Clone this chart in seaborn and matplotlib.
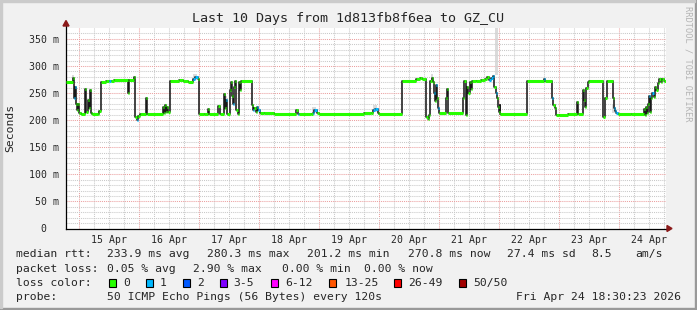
import numpy as np
import pandas as pd
import matplotlib
matplotlib.use("Agg")
import matplotlib.pyplot as plt
from matplotlib.patches import Rectangle, Polygon
from matplotlib.lines import Line2D
import seaborn as sns

# ---------------- data ----------------
# hours since Tue Apr 14 18:30, median rtt in ms, loss count for each step
t_hours = [0.0, 2.8, 3.2, 3.5, 3.9, 4.3, 4.7, 5.1, 5.5, 6.2, 7.9, 8.3, 8.8, 9.2, 9.6,
           10.0, 10.6, 12.8, 13.5, 14.3, 16.2, 17.5, 18.0, 19.5, 25.1, 25.5, 27.5,
           27.9, 28.4, 29.1, 29.9, 32.0, 32.6, 39.0, 39.4, 39.8, 40.2, 40.6, 41.1,
           41.8, 45.5, 46.8, 48.8, 50.8, 51.8, 52.8, 53.2, 55.5, 57.1, 57.5, 61.1,
           61.6, 63.2, 63.5, 63.8, 64.2, 64.6, 65.9, 66.2, 66.6, 67.0, 67.5, 67.9,
           68.3, 68.8, 69.2, 69.8, 70.3, 74.4, 75.0, 75.5, 76.0, 76.6, 77.1, 77.6,
           79.5, 83.5, 92.2, 92.8, 93.2, 98.2, 98.8, 99.5, 100.6, 101.2, 119.5,
           122.2, 122.8, 123.8, 124.8, 125.5, 134.4, 140.2, 141.9, 142.4, 144.3,
           145.0, 145.5, 145.9, 146.4, 147.0, 147.5, 147.9, 148.3, 148.7, 149.1,
           149.5, 152.2, 152.6, 153.0, 159.0, 159.4, 160.2, 160.6, 161.1, 161.6,
           162.2, 162.7, 164.2, 166.2, 167.8, 168.6, 169.2, 170.2, 171.0, 171.5,
           172.0, 172.4, 172.8, 173.2, 173.6, 173.9, 184.6, 191.5, 191.9, 194.6,
           195.1, 195.8, 196.3, 197.5, 200.8, 204.6, 205.1, 207.1, 207.5, 207.9,
           208.3, 208.8, 209.4, 215.1, 215.8, 216.4, 218.8, 219.2, 219.8, 220.3,
           220.8, 226.2, 231.2, 231.6, 232.2, 232.6, 233.1, 233.5, 233.9, 234.3,
           234.7, 235.2, 235.8, 236.3, 236.8, 237.5, 238.2, 238.7, 239.2, 240.0]
rtt_ms = [270, 278, 255, 240, 262, 230, 218, 230, 214, 211, 258, 215, 238, 222, 255,
          214, 211, 212, 217, 270, 273, 272, 272, 274, 250, 274, 279,
          205, 200, 208, 212, 240, 212, 225, 214, 228, 215, 225, 215,
          272, 274, 272, 271, 276, 280, 276, 212, 211, 220, 212, 226,
          212, 240, 248, 222, 238, 212, 255, 271, 245, 230, 262, 272,
          218, 212, 270, 255, 272, 228, 218, 222, 215, 225, 218, 214,
          213, 211, 219, 212, 212, 211, 214, 218, 214, 212, 213,
          214, 218, 221, 214, 212, 273, 275, 278, 275, 205,
          202, 210, 272, 278, 270, 250, 235, 265, 240, 222,
          213, 240, 258, 213, 240, 272, 210, 262, 250, 270,
          258, 272, 273, 274, 276, 280, 274, 277, 282, 262,
          250, 240, 225, 215, 228, 212, 273, 275, 273, 240,
          228, 222, 210, 209, 212, 233, 212, 256, 238, 225,
          260, 270, 272, 205, 240, 272, 240, 222, 216, 213,
          212, 211, 220, 210, 225, 213, 230, 245, 215, 240,
          250, 242, 262, 255, 268, 275, 270, 276, 272, 272]
loss_count = [0, 0, 0, 1, 1, 0, 0, 0, 0, 0, 0, 0, 0, 0, 0,
              0, 0, 0, 0, 0, 0, 1, 0, 0, 0, 0, 0,
              0, 1, 0, 0, 0, 0, 0, 0, 0, 0, 0, 0,
              0, 0, 0, 0, 1, 1, 0, 0, 0, 0, 0, 0,
              0, 0, 0, 0, 1, 0, 0, 0, 0, 1, 0, 0,
              0, 0, 0, 0, 0, 0, 1, 0, 0, 1, 1, 0,
              0, 0, 0, 1, 0, 0, 1, 1, 0, 0, 0,
              0, 1, 1, 0, 0, 0, 0, 0, 0, 0,
              0, 0, 0, 0, 0, 1, 0, 1, 0, 1,
              0, 0, 0, 0, 0, 0, 0, 0, 0, 0,
              0, 0, 0, 0, 0, 0, 1, 1, 1, 0,
              1, 0, 0, 0, 0, 0, 0, 1, 0, 1,
              0, 0, 0, 0, 0, 0, 0, 0, 0, 0,
              0, 0, 0, 0, 0, 0, 0, 1, 1, 1,
              0, 0, 0, 0, 0, 0, 0, 1, 0, 0,
              1, 0, 0, 0, 0, 0, 0, 0, 0, 0]

# smoke (spread of the pings) where it is visible
smoke_t = [2.8, 51.8, 64.2, 99.5, 123.8, 146.4, 172.4, 219.2]
smoke_lo = [268, 274, 226, 213, 215, 268, 283, 214]
smoke_hi = [284, 285, 244, 225, 227, 285, 372, 230]
smoke_w = [0.8, 1.6, 0.6, 1.6, 1.6, 0.8, 1.2, 1.2]

day_labels = ["15 Apr", "16 Apr", "17 Apr", "18 Apr", "19 Apr",
              "20 Apr", "21 Apr", "22 Apr", "23 Apr", "24 Apr"]
y_ticks = [0, 50, 100, 150, 200, 250, 300, 350]
y_labels = ["0  ", "50 m", "100 m", "150 m", "200 m", "250 m", "300 m", "350 m"]

loss_names = ["0", "1", "2", "3-5", "6-12", "13-25", "26-49", "50/50"]
loss_colors = ["#26ff00", "#00b8ff", "#0059ff", "#7e00ff",
               "#ff00ff", "#ff5500", "#ff0000", "#a10000"]

title = "Last 10 Days from 1d813fb8f6ea to GZ_CU"
rtt_items = ["median rtt:", "233.9 ms avg", "280.3 ms max", "201.2 ms min",
             "270.8 ms now", "27.4 ms sd", "8.5", "am/s"]
loss_items = ["packet loss:", "0.05 % avg", "2.90 % max", "0.00 % min", "0.00 % now"]
probe_items = ["probe:", "50 ICMP Echo Pings (56 Bytes) every 120s"]
stamp_text = "Fri Apr 24 18:30:23 2026"

# ---------------- figure ----------------
W, H = 697, 310
sns.set_theme(style="white")
plt.rcParams["font.family"] = ["DejaVu Sans Mono", "DejaVu Sans"]
MONO = "DejaVu Sans Mono"

fig = plt.figure(figsize=(W / 100, H / 100), dpi=100)
BG = "#f1f1f1"
fig.patch.set_facecolor(BG)


def fx(px):
    return px / W


def fy(py):
    return 1 - py / H


x_left, x_right = 65.5, 665.5
y_top, y_bot = 28.0, 228.5
ax = fig.add_axes([fx(x_left), fy(y_bot), fx(x_right) - fx(x_left), fy(y_top) - fy(y_bot)])
ax.set_facecolor("white")
ax.set_xlim(0, 240)
ax.set_ylim(0, 370)

# grid
minor_col = "#c9c9c9"
major_col = "#eba0a0"
dot = (0, (1, 1))
for h in np.arange(5.5, 240, 6):
    is_major = abs(((h - 5.5) / 24) - round((h - 5.5) / 24)) < 1e-6
    ax.axvline(h, color=major_col if is_major else minor_col, lw=0.75, ls=dot, zorder=0.5)
for v in range(10, 370, 10):
    ax.axhline(v, color=major_col if v % 50 == 0 else minor_col, lw=0.75, ls=dot, zorder=0.5)

# smoke
ax.bar(smoke_t, np.array(smoke_hi) - np.array(smoke_lo), bottom=smoke_lo,
       width=smoke_w, color="#d2d2d2", alpha=0.8, zorder=1, linewidth=0)

df = pd.DataFrame({"hours": t_hours, "rtt": rtt_ms, "loss": loss_count})

# dark median line
sns.lineplot(data=df, x="hours", y="rtt", ax=ax, color="#1a1a1a", lw=1.15,
             drawstyle="steps-post", estimator=None, sort=False, zorder=2)

# loss-coloured median band
seg = df.iloc[:-1]
ax.hlines(seg["rtt"], seg["hours"], df["hours"].iloc[1:].values,
          colors=[loss_colors[l] for l in seg["loss"]], lw=2.2, zorder=3,
          capstyle="butt")

# axes styling
for s in ["top", "right"]:
    ax.spines[s].set_visible(False)
ax.spines["left"].set_color("black")
ax.spines["bottom"].set_color("black")
ax.spines["left"].set_linewidth(0.9)
ax.spines["bottom"].set_linewidth(0.9)
ax.spines["left"].set_bounds(0, 370 + 3.5 / 0.542)

ax.set_yticks(y_ticks)
ax.set_yticklabels(y_labels, fontsize=7.1, family=MONO)
noon = [17.5 + 24 * i for i in range(len(day_labels))]
ax.set_xticks(noon)
ax.set_xticklabels(day_labels, fontsize=7.1, family=MONO)
ax.set_xticks([h for h in np.arange(5.5, 240, 6)], minor=True)
ax.tick_params(axis="x", which="major", length=0, pad=5)
ax.tick_params(axis="x", which="minor", length=2, width=0.7, direction="out", color="black")
ax.tick_params(axis="y", which="major", length=3, width=0.7, direction="out",
               color="black", pad=2)
ax.set_xlabel("")
ax.set_ylabel("")

# axis extension + arrow heads
ax.add_line(Line2D([240, 240 + 3 / 2.5], [0, 0], color="black", lw=0.9,
                   clip_on=False, transform=ax.transData))
fig.patches.append(Polygon([[fx(667), fy(225.5)], [fx(667), fy(231.5)], [fx(672), fy(228.5)]],
                           closed=True, color="#8b1a1a", transform=fig.transFigure))
fig.patches.append(Polygon([[fx(63), fy(26)], [fx(69), fy(26)], [fx(66), fy(20.5)]],
                           closed=True, color="#8b1a1a", transform=fig.transFigure))

# texts
fig.text(fx(348), fy(18.5), title, family=MONO, fontsize=9.6, ha="center", va="center")
fig.text(fx(10), fy(128), "Seconds", family=MONO, fontsize=8.2, rotation=90,
         ha="center", va="center")
fig.text(fx(688), fy(6), "RRDTOOL / TOBI OETIKER", family=MONO, fontsize=6.2,
         rotation=270, ha="center", va="top", color="#b4b4b4")

FS = 8.2
rtt_x = [16, 107.3, 207.3, 306.7, 407.7, 506.7, 591.7, 635]
for txt, px in zip(rtt_items, rtt_x):
    fig.text(fx(px), fy(254), txt, family=MONO, fontsize=FS, ha="left", va="center")
loss_x = [16, 107.3, 193, 281.5, 364]
for txt, px in zip(loss_items, loss_x):
    fig.text(fx(px), fy(268.5), txt, family=MONO, fontsize=FS, ha="left", va="center")
fig.text(fx(16), fy(283), "loss color:", family=MONO, fontsize=FS, ha="left", va="center")
box_x = [108.7, 145.5, 182.7, 219.5, 270.5, 328.5, 393.5, 458.5]
lab_x = [123, 160, 197, 233.5, 285, 345, 408, 473.5]
for name, col, bx, lx in zip(loss_names, loss_colors, box_x, lab_x):
    fig.patches.append(Rectangle((fx(bx), fy(287)), 7.5 / W, 8.5 / H, facecolor=col,
                                 edgecolor="black", lw=0.8, transform=fig.transFigure))
    fig.text(fx(lx), fy(283), name, family=MONO, fontsize=FS, ha="left", va="center")
probe_x = [16, 107.3]
for txt, px in zip(probe_items, probe_x):
    fig.text(fx(px), fy(297.5), txt, family=MONO, fontsize=FS, ha="left", va="center")
fig.text(fx(680.5), fy(297.5), stamp_text, family=MONO, fontsize=FS, ha="right", va="center")

# 3d frame
fig.patches.append(Rectangle((0, 0), 1, 2 / H, color="#999999", transform=fig.transFigure))
fig.patches.append(Rectangle((1 - 2 / W, 0), 2 / W, 1, color="#999999", transform=fig.transFigure))
fig.patches.append(Rectangle((0, 1 - 2 / H), 1 - 2 / W, 2 / H, color="#cbcbcb", transform=fig.transFigure))
fig.patches.append(Rectangle((0, 2 / H), 2 / W, 1 - 4 / H, color="#cbcbcb", transform=fig.transFigure))

fig.savefig("out.png", dpi=100, facecolor=fig.get_facecolor())
